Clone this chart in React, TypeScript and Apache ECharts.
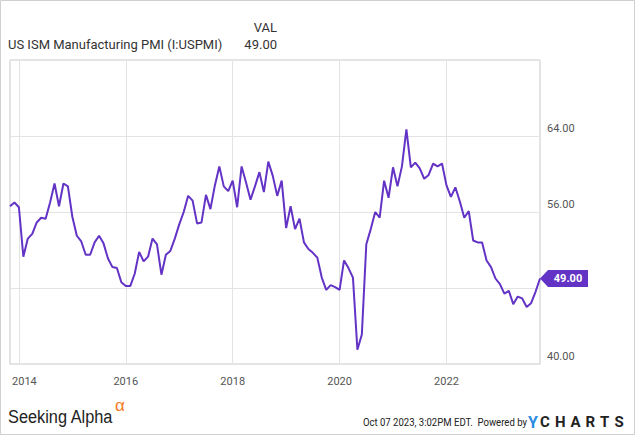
import React, { useEffect, useRef } from "react";
import * as echarts from "echarts";

// ISM Manufacturing PMI, monthly (month-end dates)
const START_YEAR = 2013;
const START_MONTH = 10; // first point: Oct 2013
const pmi2013 = [56.6, 57.0, 56.5];
const pmi2014 = [51.3, 53.2, 53.7, 54.9, 55.4, 55.3, 57.0, 59.0, 56.6, 59.0, 58.7, 55.5];
const pmi2015 = [53.5, 52.9, 51.5, 51.5, 52.8, 53.5, 52.7, 51.1, 50.2, 50.1, 48.6, 48.2];
const pmi2016 = [48.2, 49.5, 51.8, 50.8, 51.3, 53.2, 52.6, 49.4, 51.5, 51.9, 53.2, 54.7];
const pmi2017 = [56.0, 57.7, 57.2, 54.8, 54.9, 57.8, 56.3, 58.8, 60.8, 58.7, 58.2, 59.3];
const pmi2018 = [56.5, 60.8, 59.1, 57.3, 58.7, 60.2, 58.1, 61.3, 59.8, 57.7, 59.3, 54.3];
const pmi2019 = [56.6, 54.2, 55.3, 52.8, 52.1, 51.7, 51.2, 49.1, 47.8, 48.3, 48.1, 47.8];
const pmi2020 = [50.9, 50.1, 49.1, 41.5, 43.1, 52.6, 54.2, 56.0, 55.4, 59.3, 57.5, 60.7];
const pmi2021 = [58.7, 60.8, 64.7, 60.7, 61.2, 60.6, 59.5, 59.9, 61.1, 60.8, 61.1, 58.8];
const pmi2022 = [57.6, 58.6, 57.1, 55.4, 56.1, 53.0, 52.8, 52.8, 50.9, 50.2, 49.0, 48.4];
const pmi2023 = [47.4, 47.7, 46.3, 47.1, 46.9, 46.0, 46.4, 47.6, 49.0];

const YEARLY = [pmi2013, pmi2014, pmi2015, pmi2016, pmi2017, pmi2018, pmi2019, pmi2020, pmi2021, pmi2022, pmi2023];

const Y_MIN = 40;
const Y_MAX = 72;
const Y_INTERVAL = 8;
const Y_HIDDEN_LABELS = [48, 72];

const TITLE = "US ISM Manufacturing PMI (I:USPMI)";
const COL_HEADER = "VAL";
const FOOTER_DATE = "Oct 07 2023, 3:02PM EDT.  Powered by";

const LINE_COLOR = "#6333c6";

// build categories (month-end dates) and values
const categories: string[] = [];
const values: number[] = [];
YEARLY.forEach((arr, yi) => {
  const year = START_YEAR + yi;
  const m0 = yi === 0 ? START_MONTH : 1;
  arr.forEach((v, i) => {
    const m = m0 + i;
    const day = new Date(Date.UTC(year, m, 0)).getUTCDate();
    categories.push(`${year}-${String(m).padStart(2, "0")}-${String(day).padStart(2, "0")}`);
    values.push(v);
  });
});
const LAST = values[values.length - 1];

const isYearMark = (v: string) => {
  const y = Number(v.slice(0, 4));
  const m = Number(v.slice(5, 7));
  return m === 12 && (y + 1) % 2 === 0;
};

export default function App() {
  const ref = useRef<HTMLDivElement>(null);
  useEffect(() => {
    if (!ref.current) return;
    const chart = echarts.init(ref.current, undefined, { renderer: "svg" });
    const letters = [
      { t: "C", x: 540 },
      { t: "H", x: 555 },
      { t: "A", x: 570.5 },
      { t: "R", x: 585.5 },
      { t: "T", x: 600 },
      { t: "S", x: 614.5 },
    ];
    chart.setOption({
      animation: false,
      textStyle: { fontFamily: "Roboto" },
      grid: { left: 10, right: 95, top: 60, bottom: 71, show: true, borderColor: "#c8c8c8", borderWidth: 1, backgroundColor: "transparent" },
      xAxis: {
        type: "category",
        data: categories,
        boundaryGap: false,
        axisLine: { show: false },
        axisTick: { show: false },
        splitLine: { show: true, interval: (_i: number, v: string) => isYearMark(v), lineStyle: { color: "#e3e3e3", width: 1 } },
        axisLabel: {
          interval: (_i: number, v: string) => isYearMark(v),
          formatter: (v: string, idx: number) => {
            const label = String(Number(v.slice(0, 4)) + 1);
            return idx < 12 ? `{first|${label}}` : label;
          },
          rich: { first: { padding: [0, 0, 0, 11], color: "#555", fontSize: 11, fontFamily: "Roboto" } },
          color: "#555",
          fontSize: 11,
          fontFamily: "Roboto",
          margin: 12,
        },
      },
      yAxis: {
        type: "value",
        position: "right",
        min: Y_MIN,
        max: Y_MAX,
        interval: Y_INTERVAL,
        axisLine: { show: false },
        axisTick: { show: false },
        splitLine: { show: true, lineStyle: { color: "#e3e3e3", width: 1 } },
        axisLabel: {
          formatter: (v: number) => (Y_HIDDEN_LABELS.includes(v) ? "" : v.toFixed(2)),
          color: "#555",
          fontSize: 11,
          fontFamily: "Roboto",
          align: "left",
          verticalAlign: "bottom",
          padding: [0, 0, 2, 0],
          margin: 7,
        },
      },
      series: [
        {
          type: "line",
          data: values,
          showSymbol: false,
          symbol: "none",
          lineStyle: { color: LINE_COLOR, width: 2 },
          itemStyle: { color: LINE_COLOR },
          markPoint: {
            silent: true,
            symbol: "path://M0,8.5L8,0L48,0L48,17L8,17Z",
            symbolSize: [48, 17],
            symbolKeepAspect: false,
            symbolOffset: [24, 0],
            itemStyle: { color: LINE_COLOR },
            label: {
              show: true,
              position: "inside",
              offset: [4, 0],
              color: "#fff",
              fontWeight: "bold",
              fontSize: 11,
              fontFamily: "Roboto",
              formatter: (p: any) => Number(p.value).toFixed(2),
            },
            data: [{ coord: [categories[categories.length - 1], LAST], value: LAST }],
          },
        },
      ],
      graphic: [
        {
          type: "rect",
          silent: true,
          shape: { x: 0.5, y: 0.5, width: 634, height: 434 },
          style: { fill: "none", stroke: "#d0d0d0", lineWidth: 1 },
        },
        {
          type: "text",
          x: 8,
          y: 44,
          style: { text: TITLE, font: "13px Roboto", fill: "#333", textAlign: "left", textVerticalAlign: "middle" },
        },
        {
          type: "text",
          x: 277,
          y: 27,
          style: { text: COL_HEADER, font: "13px Roboto", fill: "#333", textAlign: "right", textVerticalAlign: "middle" },
        },
        {
          type: "text",
          x: 277,
          y: 44,
          style: { text: LAST.toFixed(2), font: "13px Roboto", fill: "#333", textAlign: "right", textVerticalAlign: "middle" },
        },
        {
          type: "text",
          x: 8,
          y: 417,
          scaleX: 0.86,
          style: { text: "Seeking Alpha", font: '19px "Liberation Sans"', fill: "#222", textAlign: "left", textVerticalAlign: "middle" },
        },
        {
          type: "text",
          x: 115,
          y: 405,
          style: { text: "α", font: '17px "Liberation Sans"', fill: "#f47920", textAlign: "left", textVerticalAlign: "middle" },
        },
        {
          type: "text",
          x: 527,
          y: 422,
          scaleX: 0.87,
          style: { text: FOOTER_DATE, font: "11px Roboto", fill: "#222", textAlign: "right", textVerticalAlign: "middle" },
        },
        {
          type: "text",
          x: 528,
          y: 422,
          style: { text: "Y", font: "bold 16px Roboto", fill: "#2b8ce3", textAlign: "left", textVerticalAlign: "middle" },
        },
        ...letters.map((l) => ({
          type: "text",
          x: l.x,
          y: 422,
          style: { text: l.t, font: "bold 15px Roboto", fill: "#222", textAlign: "left", textVerticalAlign: "middle" },
        })),
      ],
    });
    return () => chart.dispose();
  }, []);
  return (
    <div
      ref={ref}
      style={{ position: "fixed", left: 0, top: 0, width: 635, height: 435, background: "#fff" }}
    />
  );
}
